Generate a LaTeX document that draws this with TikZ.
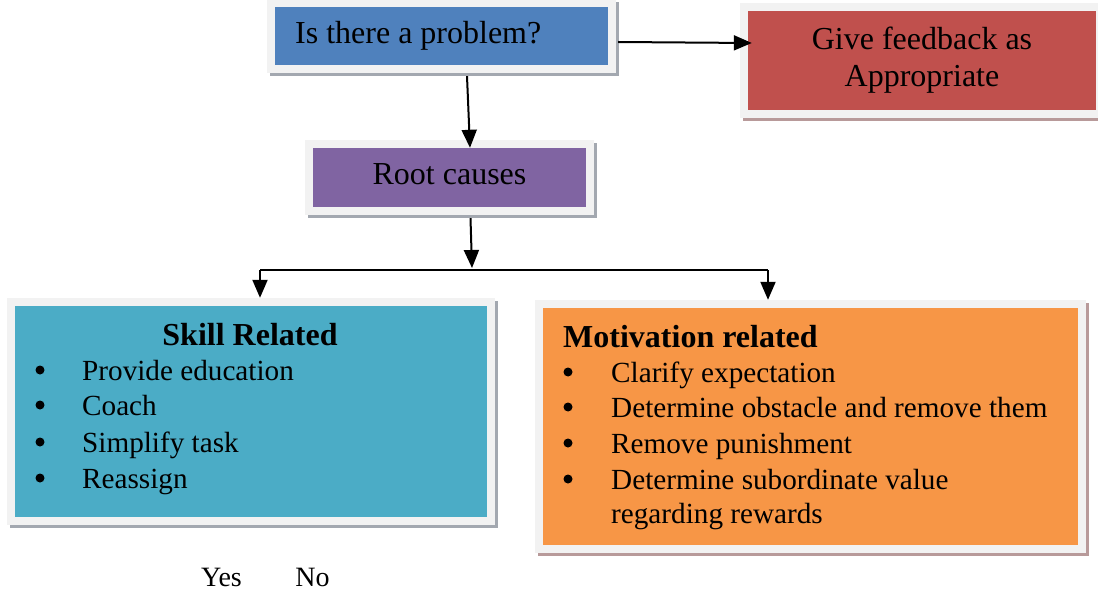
\documentclass[tikz,border=0pt]{standalone}
\usepackage{fontspec}
\setmainfont{Liberation Serif}
\usetikzlibrary{arrows.meta,calc,backgrounds}
\definecolor{cblue}{HTML}{4F81BD}
\definecolor{cred}{HTML}{C0504D}
\definecolor{cpurple}{HTML}{8064A2}
\definecolor{cteal}{HTML}{4BACC6}
\definecolor{corange}{HTML}{F79646}
\definecolor{cframe}{HTML}{F2F2F2}
\definecolor{cshadow}{HTML}{A3A8B0}
\definecolor{cshadowred}{HTML}{B89A9A}
\newcommand\myframe[2]{%
  \begin{scope}[on background layer]
    \fill[#2] ($(#1.north west)+(-5,-5)$) rectangle ($(#1.south east)+(11,11)$);
    \fill[cframe] ($(#1.north west)+(-8,-8)$) rectangle ($(#1.south east)+(8,8)$);
  \end{scope}}
\tikzset{
  colbox/.style={fill=#1, draw=none, inner sep=0pt},
  big/.style={font=\fontsize{32}{38}\selectfont, inner sep=0pt},
  bigbold/.style={font=\fontsize{32}{38}\selectfont\bfseries, inner sep=0pt},
  lst/.style={font=\fontsize{29.2}{36}\selectfont, inner sep=0pt, anchor=base west},
  bul/.style={circle, fill=black, inner sep=0pt, minimum size=9pt},
  arr/.style={-{Triangle[length=18pt,width=15pt]}, line width=2pt},
  conn/.style={line width=2pt}
}
\begin{document}
\begin{tikzpicture}[x=1pt,y=-1pt]
\useasboundingbox (0,0) rectangle (1098,591);
% boxes
\node[colbox=cblue, minimum width=333pt, minimum height=58pt] (prob) at (441.5,36) {};
\myframe{prob}{cshadow}
\node[colbox=cred, minimum width=348pt, minimum height=99pt] (fb) at (922,60.5) {};
\myframe{fb}{cshadowred}
\node[colbox=cpurple, minimum width=273pt, minimum height=59pt] (root) at (449.5,177.5) {};
\myframe{root}{cshadow}
\node[colbox=cteal, minimum width=472pt, minimum height=211pt] (skill) at (251,411.5) {};
\myframe{skill}{cshadow}
\node[colbox=corange, minimum width=535pt, minimum height=237pt] (motiv) at (810.5,426.5) {};
\myframe{motiv}{cshadowred}
% texts
\node[big, anchor=base west] (probt) at (295,44) {Is there a problem?};
\node[big, anchor=base] (fbt1) at (922,50) {Give feedback as};
\node[big, anchor=base] (fbt2) at (922,87) {Appropriate};
\node[big, anchor=base] (roott) at (449.5,185) {Root causes};
\node[bigbold, anchor=base] (skt) at (250,345) {Skill Related};
\node[bul] (sb1) at (40,370) {};
\node[bul] (sb2) at (40,405) {};
\node[bul] (sb3) at (40,442) {};
\node[bul] (sb4) at (40,478) {};
\node[lst] (s1) at (82,380) {Provide education};
\node[lst] (s2) at (82,415) {Coach};
\node[lst] (s3) at (82,452) {Simplify task};
\node[lst] (s4) at (82,488) {Reassign};
\node[bigbold, anchor=base west] (mot) at (563,347) {Motivation related};
\node[bul] (mb1) at (568,372) {};
\node[bul] (mb2) at (568,407) {};
\node[bul] (mb3) at (568,443) {};
\node[bul] (mb4) at (568,479) {};
\node[lst] (m1) at (611,382) {Clarify expectation};
\node[lst] (m2) at (611,417) {Determine obstacle and remove them};
\node[lst] (m3) at (611,453) {Remove punishment};
\node[lst] (m4) at (611,489) {Determine subordinate value};
\node[lst] (m5) at (611,523) {regarding rewards};
\node[font=\fontsize{28}{34}\selectfont, inner sep=0pt, anchor=base] (yes) at (221.5,586) {Yes};
\node[font=\fontsize{28}{34}\selectfont, inner sep=0pt, anchor=base] (no) at (312.5,586) {No};
% connectors
\coordinate (mid) at (472,270);
\coordinate (bl) at (260,270);
\coordinate (br) at (768,270);
\draw[arr] ($(prob.east)+(10,6)$) -- ($(fb.west)+(4,-17.5)$);
\draw[arr] ($(prob.south)+(25.5,11)$) -- ($(root.north)+(20.5,0)$);
\draw[arr] ($(root.south)+(21,11)$) -- ($(mid)+(0,-2)$);
\draw[conn] (bl) -- (br);
\draw[arr] (bl) -- ($(bl |- skill.north)+(0,-8)$);
\draw[arr] (br) -- ($(br |- motiv.north)+(0,-8)$);
\end{tikzpicture}
\end{document}
